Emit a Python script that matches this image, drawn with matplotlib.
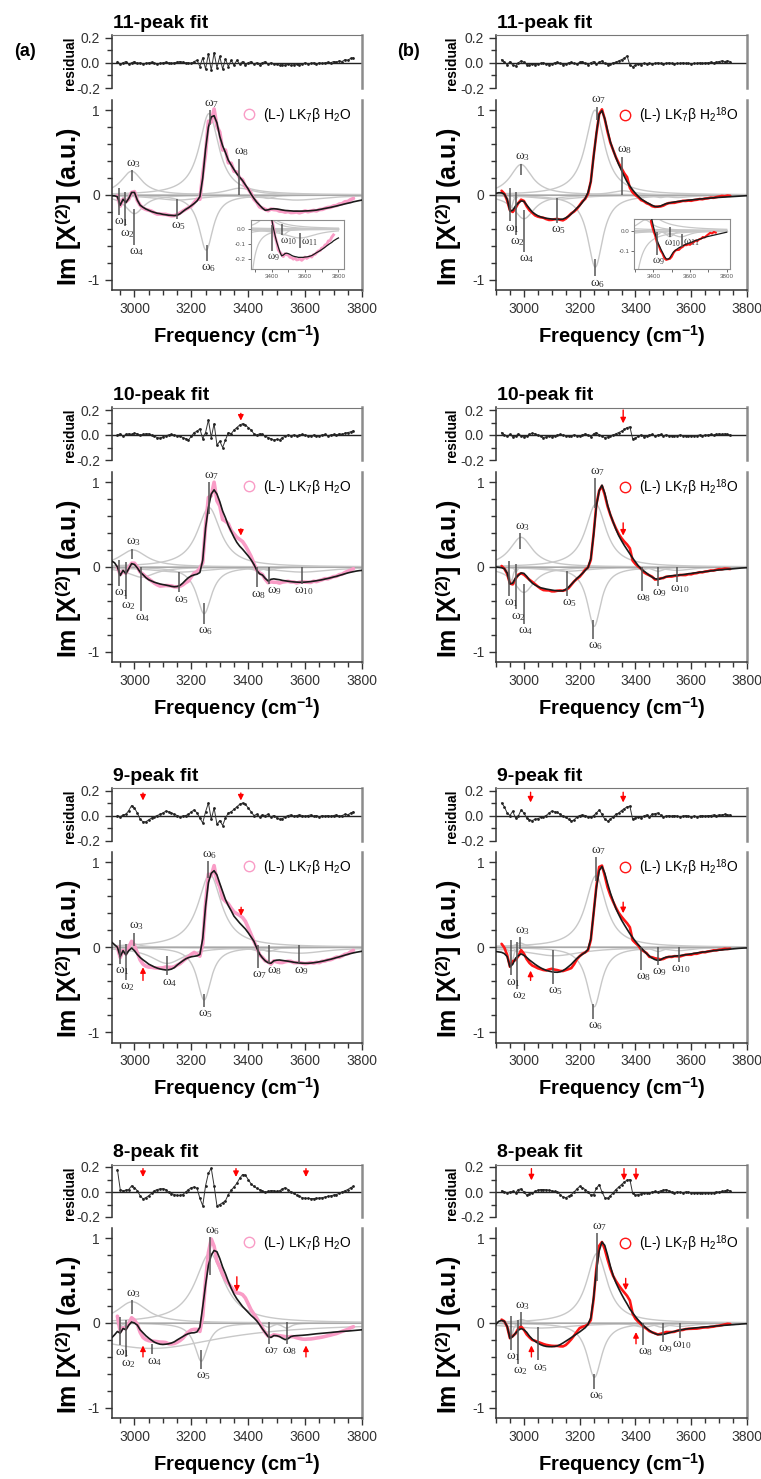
import numpy as np
import matplotlib
matplotlib.use('Agg')
import matplotlib.pyplot as plt
from matplotlib.ticker import MultipleLocator, FormatStrFormatter, FixedLocator
from matplotlib.lines import Line2D

plt.rcParams['font.family'] = ['Liberation Sans', 'DejaVu Sans']
plt.rcParams['mathtext.fontset'] = 'custom'
plt.rcParams['mathtext.rm'] = 'Liberation Sans'
plt.rcParams['mathtext.it'] = 'Liberation Serif'
plt.rcParams['mathtext.sf'] = 'Liberation Serif'
plt.rcParams['mathtext.bf'] = 'Liberation Sans:bold'
plt.rcParams['axes.unicode_minus'] = False

# ---------------- data ----------------
# frequency grids (cm-1) of the fit curves and residuals
freq_a = np.arange(2920, 3801, 10)     # column (a): H2O
freq_b = np.arange(2900, 3801, 10)     # column (b): H2 18O
res_start_a = 2940
res_start_b = 2920

# black fit curves, Im chi(2)
fit_a11 = [-0.01, -0.01, -0.02, -0.12, -0.05, -0.09, -0.04, 0.03, 0.03, -0.06,
           -0.12, -0.145, -0.165, -0.18, -0.195, -0.205, -0.215, -0.22, -0.228, -0.233,
           -0.238, -0.24, -0.243, -0.238, -0.222, -0.195, -0.17, -0.15, -0.125, -0.10,
           -0.07, -0.02, 0.20, 0.54, 0.80, 0.92, 0.935, 0.85, 0.69, 0.58,
           0.50, 0.41, 0.355, 0.30, 0.25, 0.21, 0.17, 0.12, 0.07, 0.01,
           -0.04, -0.085, -0.12, -0.155, -0.18, -0.175, -0.165, -0.162, -0.165, -0.17,
           -0.177, -0.182, -0.185, -0.187, -0.19, -0.19, -0.19, -0.19, -0.188, -0.187,
           -0.185, -0.182, -0.178, -0.172, -0.165, -0.158, -0.152, -0.145, -0.138, -0.13,
           -0.122, -0.113, -0.105, -0.097, -0.09, -0.08, -0.073, -0.066, -0.06]
fit_a10 = [0.07, 0.05, 0.0, -0.10, -0.04, -0.08, -0.02, 0.04, 0.03, -0.01,
           -0.06, -0.09, -0.125, -0.15, -0.165, -0.18, -0.19, -0.2, -0.207, -0.213,
           -0.22, -0.228, -0.233, -0.23, -0.218, -0.19, -0.155, -0.125, -0.105, -0.093,
           -0.085, -0.065, 0.08, 0.46, 0.70, 0.86, 0.91, 0.86, 0.77, 0.66,
           0.58, 0.49, 0.42, 0.35, 0.29, 0.245, 0.21, 0.17, 0.13, 0.085,
           0.03, -0.04, -0.08, -0.095, -0.135, -0.165, -0.145, -0.14, -0.145, -0.15,
           -0.158, -0.163, -0.168, -0.172, -0.176, -0.178, -0.18, -0.18, -0.178, -0.175,
           -0.172, -0.167, -0.162, -0.156, -0.15, -0.142, -0.135, -0.127, -0.118, -0.11,
           -0.1, -0.09, -0.08, -0.07, -0.062, -0.055, -0.048, -0.043, -0.04]
fit_a9 = [0.06, 0.03, 0.0, -0.11, -0.04, -0.09, -0.04, -0.01, -0.04, -0.085,
          -0.12, -0.148, -0.172, -0.198, -0.215, -0.232, -0.245, -0.255, -0.262, -0.267,
          -0.265, -0.257, -0.24, -0.21, -0.184, -0.16, -0.137, -0.122, -0.112, -0.106,
          -0.101, -0.085, 0.1, 0.48, 0.76, 0.87, 0.9, 0.85, 0.75, 0.655,
          0.56, 0.49, 0.43, 0.365, 0.325, 0.285, 0.25, 0.215, 0.17, 0.12,
          0.07, -0.01, -0.08, -0.125, -0.16, -0.182, -0.188, -0.16, -0.152, -0.15,
          -0.155, -0.16, -0.164, -0.17, -0.176, -0.181, -0.185, -0.187, -0.188, -0.188,
          -0.186, -0.182, -0.177, -0.171, -0.165, -0.157, -0.149, -0.141, -0.132, -0.122,
          -0.113, -0.103, -0.093, -0.083, -0.074, -0.066, -0.059, -0.053, -0.047]
fit_a8 = [-0.174, -0.14, -0.1, -0.12, -0.065, -0.08, -0.025, 0.012, 0.0, -0.025,
          -0.08, -0.115, -0.15, -0.178, -0.203, -0.226, -0.24, -0.25, -0.253, -0.25,
          -0.245, -0.236, -0.222, -0.2, -0.18, -0.16, -0.14, -0.125, -0.117, -0.115,
          -0.105, -0.05, 0.19, 0.45, 0.68, 0.80, 0.855, 0.84, 0.76, 0.66,
          0.58, 0.49, 0.41, 0.34, 0.285, 0.24, 0.195, 0.16, 0.125, 0.09,
          0.06, 0.025, -0.02, -0.07, -0.115, -0.16, -0.17, -0.148, -0.15, -0.16,
          -0.18, -0.196, -0.185, -0.16, -0.152, -0.149, -0.147, -0.145, -0.142, -0.139,
          -0.135, -0.131, -0.127, -0.124, -0.121, -0.118, -0.115, -0.112, -0.108, -0.105,
          -0.102, -0.099, -0.097, -0.095, -0.092, -0.089, -0.086, -0.083, -0.08]
fit_b11 = [0.02, 0.027, 0.025, 0.01, -0.05, -0.19, -0.18, -0.13, -0.095, -0.07,
           -0.075, -0.118, -0.16, -0.2, -0.225, -0.245, -0.258, -0.268, -0.274, -0.279,
           -0.283, -0.286, -0.287, -0.287, -0.284, -0.27, -0.25, -0.222, -0.19, -0.155,
           -0.125, -0.085, -0.04, 0.03, 0.16, 0.45, 0.73, 0.95, 0.995, 0.9,
           0.76, 0.627, 0.53, 0.44, 0.36, 0.29, 0.22, 0.155, 0.105, 0.06,
           0.02, -0.015, -0.045, -0.068, -0.087, -0.105, -0.122, -0.135, -0.137, -0.13,
           -0.115, -0.102, -0.095, -0.088, -0.082, -0.078, -0.073, -0.069, -0.065, -0.061,
           -0.058, -0.055, -0.051, -0.048, -0.045, -0.042, -0.039, -0.036, -0.033, -0.03,
           -0.028, -0.026, -0.024, -0.022, -0.02, -0.018, -0.016, -0.014, -0.012, -0.01,
           -0.008]
fit_b10 = [0.0, -0.003, -0.008, -0.02, -0.07, -0.2, -0.19, -0.13, -0.1, -0.07,
           -0.075, -0.11, -0.155, -0.19, -0.212, -0.23, -0.245, -0.252, -0.26, -0.266,
           -0.272, -0.277, -0.28, -0.282, -0.28, -0.265, -0.24, -0.205, -0.17, -0.135,
           -0.105, -0.075, -0.04, -0.005, 0.1, 0.38, 0.72, 0.9, 0.965, 0.87,
           0.73, 0.62, 0.53, 0.445, 0.37, 0.31, 0.255, 0.205, 0.155, 0.105,
           0.06, 0.015, -0.02, -0.047, -0.072, -0.098, -0.12, -0.138, -0.145, -0.138,
           -0.126, -0.115, -0.108, -0.103, -0.1, -0.097, -0.094, -0.09, -0.085, -0.08,
           -0.076, -0.071, -0.067, -0.062, -0.058, -0.054, -0.05, -0.046, -0.042, -0.038,
           -0.035, -0.032, -0.029, -0.026, -0.024, -0.021, -0.018, -0.015, -0.012, -0.01,
           -0.008]
fit_b9 = [-0.05, -0.055, -0.06, -0.075, -0.11, -0.23, -0.2, -0.13, -0.1, -0.078,
          -0.095, -0.12, -0.15, -0.175, -0.2, -0.222, -0.242, -0.258, -0.272, -0.281,
          -0.288, -0.293, -0.294, -0.288, -0.275, -0.254, -0.228, -0.2, -0.165, -0.132,
          -0.105, -0.082, -0.06, -0.025, 0.1, 0.4, 0.7, 0.9, 0.95, 0.87,
          0.75, 0.64, 0.545, 0.455, 0.385, 0.32, 0.265, 0.212, 0.16, 0.113,
          0.07, 0.03, -0.005, -0.042, -0.075, -0.103, -0.128, -0.145, -0.155, -0.148,
          -0.128, -0.117, -0.112, -0.109, -0.105, -0.101, -0.098, -0.093, -0.088, -0.083,
          -0.078, -0.072, -0.067, -0.062, -0.058, -0.054, -0.05, -0.045, -0.041, -0.037,
          -0.034, -0.031, -0.028, -0.025, -0.022, -0.019, -0.016, -0.013, -0.011, -0.009,
          -0.008]
fit_b8 = [-0.016, 0.02, 0.03, 0.02, -0.04, -0.18, -0.16, -0.12, -0.085, -0.066,
          -0.08, -0.11, -0.155, -0.19, -0.215, -0.238, -0.255, -0.268, -0.276, -0.279,
          -0.279, -0.276, -0.27, -0.255, -0.236, -0.215, -0.194, -0.172, -0.149, -0.127,
          -0.105, -0.08, -0.055, -0.015, 0.06, 0.3, 0.62, 0.85, 0.955, 0.915,
          0.8, 0.67, 0.56, 0.475, 0.405, 0.34, 0.28, 0.225, 0.165, 0.12,
          0.075, 0.035, 0.0, -0.035, -0.063, -0.088, -0.11, -0.126, -0.136, -0.137,
          -0.134, -0.126, -0.117, -0.107, -0.099, -0.091, -0.083, -0.077, -0.072, -0.067,
          -0.063, -0.059, -0.056, -0.053, -0.05, -0.047, -0.044, -0.041, -0.038, -0.035,
          -0.032, -0.03, -0.027, -0.025, -0.022, -0.02, -0.017, -0.015, -0.012, -0.01,
          -0.008]

# residuals (data - fit)
res_a11 = [0.01, -0.01, 0.0, 0.01, -0.01, 0.0, 0.01, -0.005, 0.0, -0.01,
           -0.005, 0.0, 0.005, -0.005, -0.01, -0.005, 0.0, 0.005, 0.0, -0.005,
           0.0, 0.005, 0.01, 0.005, 0.0, 0.0, -0.005, 0.01, 0.02, -0.03,
           0.04, -0.05, 0.07, -0.06, 0.08, -0.04, 0.05, -0.05, 0.03, -0.03,
           0.02, -0.02, 0.02, -0.01, 0.01, -0.02, 0.0, 0.01, -0.01, 0.0,
           -0.02, 0.0, 0.01, -0.01, 0.0, -0.01, -0.01, -0.02, -0.015, -0.02,
           -0.01, -0.02, -0.015, -0.01, -0.02, -0.01, 0.0, -0.01, -0.005, 0.0,
           -0.01, 0.0, -0.005, 0.0, 0.005, 0.0, 0.01, 0.005, 0.015, 0.01,
           0.025, 0.02, 0.035, 0.04]
res_a10 = [0.0, 0.01, -0.01, 0.005, 0.01, 0.005, 0.015, 0.01, 0.0, 0.005,
           0.01, 0.01, 0.0, -0.01, -0.02, -0.025, -0.015, -0.005, 0.0, 0.005,
           0.0, -0.005, -0.01, -0.02, -0.03, -0.04, -0.01, 0.02, 0.03, 0.05,
           -0.03, 0.02, 0.12, -0.02, 0.09, -0.08, -0.05, -0.1, -0.04, 0.02,
           0.01, 0.04, 0.06, 0.08, 0.09, 0.08, 0.06, 0.04, 0.01, 0.0,
           0.01, 0.005, -0.01, -0.02, -0.03, -0.04, -0.035, -0.04, -0.02, -0.01,
           0.0, -0.005, 0.0, -0.01, 0.0, 0.005, 0.0, -0.005, -0.01, 0.0,
           -0.01, -0.005, 0.0, 0.005, -0.005, 0.0, 0.005, 0.0, 0.01, 0.005,
           0.015, 0.02, 0.025, 0.035]
res_a9 = [0.0, -0.01, 0.005, 0.01, 0.04, 0.08, 0.06, 0.02, -0.03, -0.05,
          -0.05, -0.035, -0.02, -0.01, 0.0, 0.01, 0.02, 0.035, 0.03, 0.02,
          0.01, 0.0, -0.01, -0.005, 0.0, 0.01, 0.03, 0.045, 0.02, -0.02,
          -0.06, 0.03, 0.1, -0.03, 0.06, -0.07, -0.04, -0.08, -0.02, 0.02,
          0.03, 0.05, 0.07, 0.09, 0.1, 0.09, 0.06, 0.03, 0.0, 0.01,
          -0.01, 0.005, 0.0, 0.01, -0.01, 0.0, -0.02, -0.03, -0.025, -0.01,
          0.0, 0.005, -0.005, 0.0, 0.005, 0.0, -0.005, 0.0, 0.005, -0.005,
          0.0, -0.01, 0.0, -0.005, 0.0, -0.005, 0.0, 0.005, -0.005, 0.0,
          0.01, 0.005, 0.02, 0.03]
res_a8 = [0.18, 0.02, 0.01, 0.015, 0.02, 0.05, 0.035, 0.01, -0.03, -0.055,
          -0.045, -0.03, -0.01, 0.01, 0.02, 0.025, 0.027, 0.02, 0.0, -0.012,
          -0.02, -0.027, -0.027, -0.02, 0.0, 0.02, 0.035, 0.04, 0.03, -0.05,
          -0.11, 0.05, 0.15, 0.19, 0.05, -0.11, -0.1, -0.085, -0.07, -0.02,
          0.015, 0.04, 0.07, 0.11, 0.14, 0.135, 0.1, 0.065, 0.045, 0.03,
          0.02, 0.01, 0.0, 0.005, 0.012, 0.01, 0.005, 0.01, 0.025, 0.035,
          0.02, 0.0, -0.01, -0.025, -0.035, -0.045, -0.05, -0.05, -0.053, -0.052,
          -0.05, -0.048, -0.045, -0.04, -0.035, -0.03, -0.025, -0.02, -0.01, 0.0,
          0.01, 0.02, 0.035, 0.045]
res_b11 = [0.025, 0.005, -0.015, 0.01, -0.02, -0.025, 0.0, 0.015, 0.005, -0.015,
           -0.02, -0.01, -0.015, -0.01, -0.005, 0.0, -0.01, -0.015, -0.01, 0.0,
           0.005, -0.005, -0.015, -0.01, 0.0, 0.005, -0.005, -0.01, 0.005, 0.01,
           -0.005, -0.015, 0.0, 0.01, -0.01, 0.005, 0.015, -0.005, -0.015, -0.01,
           0.0, 0.005, 0.015, 0.025, 0.035, 0.055, -0.02, -0.03, -0.02, -0.01,
           -0.015, -0.005, -0.01, -0.005, -0.01, -0.005, 0.0, -0.005, -0.01, -0.005,
           0.0, -0.005, -0.01, -0.005, -0.005, 0.0, -0.005, -0.005, -0.01, -0.005,
           -0.005, 0.0, -0.005, 0.0, 0.0, 0.005, 0.0, 0.005, 0.01, 0.015,
           0.01, 0.015, 0.01]
res_b10 = [0.02, 0.0, -0.01, 0.005, -0.015, -0.01, 0.01, -0.005, -0.015, -0.01,
           0.005, 0.015, 0.01, 0.0, -0.01, -0.02, -0.015, -0.01, -0.015, -0.01,
           0.0, 0.005, 0.0, -0.005, -0.01, -0.005, 0.0, -0.005, -0.01, 0.0,
           0.01, 0.0, -0.015, 0.01, 0.02, 0.0, -0.01, -0.02, -0.015, -0.005,
           0.0, 0.01, 0.02, 0.03, 0.045, 0.06, 0.065, -0.03, -0.025, -0.01,
           0.0, -0.015, -0.01, 0.0, 0.005, -0.01, 0.0, 0.005, -0.005, 0.0,
           -0.005, -0.01, -0.005, -0.005, 0.0, -0.005, -0.01, -0.005, -0.01, -0.005,
           -0.005, 0.0, -0.005, 0.0, 0.0, 0.005, 0.0, 0.005, 0.01, 0.005,
           0.01, 0.005, 0.0]
res_b9 = [0.1, 0.07, 0.02, 0.0, 0.035, -0.02, -0.005, 0.045, 0.02, -0.02,
          -0.035, -0.04, -0.03, -0.025, -0.015, -0.01, 0.0, 0.02, 0.035, 0.03,
          0.025, 0.01, -0.005, -0.015, -0.03, -0.045, -0.035, -0.01, 0.0, 0.005,
          0.0, -0.01, -0.015, 0.0, 0.02, 0.044, 0.01, -0.03, -0.045, -0.03,
          -0.01, 0.01, 0.02, 0.04, 0.055, 0.07, 0.075, -0.03, -0.02, -0.01,
          -0.02, -0.005, 0.005, -0.01, 0.01, 0.015, 0.02, 0.005, -0.01, -0.005,
          0.0, -0.005, 0.0, -0.005, -0.01, -0.005, 0.0, -0.005, -0.01, -0.005,
          -0.01, -0.005, 0.0, -0.005, 0.0, 0.0, 0.005, 0.0, 0.005, 0.005,
          0.01, 0.005, 0.005]
res_b8 = [0.01, 0.0, -0.005, 0.0, 0.005, -0.005, 0.02, 0.025, 0.0, -0.025,
          -0.015, -0.01, 0.005, 0.015, 0.02, 0.02, 0.018, 0.015, 0.01, 0.005,
          0.0, -0.02, -0.04, -0.045, -0.035, -0.02, 0.0, 0.025, 0.045, 0.035,
          0.02, 0.0, -0.025, -0.02, 0.03, 0.06, 0.0, -0.045, -0.05, -0.03,
          -0.005, 0.02, 0.04, 0.06, 0.08, 0.095, 0.1, -0.01, -0.025, -0.02,
          -0.015, -0.01, -0.005, -0.008, 0.0, 0.005, 0.0, 0.01, 0.015, 0.02,
          0.01, 0.0, -0.005, 0.0, -0.002, -0.005, 0.0, -0.002, -0.005, -0.008,
          -0.01, -0.008, -0.005, -0.005, -0.008, -0.005, -0.005, 0.0, 0.0, 0.005,
          0.01, 0.015, 0.01]

# fitted Lorentzian components: centre (cm-1), height, half width (cm-1)
pk_a11_c = [2953, 2970, 2990, 3000, 3150, 3252, 3262, 3370, 3415, 3470, 3570]
pk_a11_h = [-0.12, -0.07, 0.28, -0.22, -0.06, -0.65, 0.96, 0.08, -0.03, -0.04, -0.06]
pk_a11_w = [4, 5, 45, 40, 100, 30, 42, 60, 20, 25, 120]
pk_a10_c = [2950, 2970, 2995, 3025, 3160, 3245, 3262, 3432, 3472, 3590]
pk_a10_h = [-0.1, -0.07, 0.2, -0.12, -0.06, -0.55, 0.70, -0.04, -0.04, -0.06]
pk_a10_w = [4, 5, 60, 60, 120, 32, 50, 30, 25, 120]
pk_a9_c = [2950, 2970, 2995, 3115, 3245, 3265, 3432, 3472, 3580]
pk_a9_h = [-0.11, -0.07, 0.04, -0.19, -0.62, 0.86, -0.04, -0.05, -0.07]
pk_a9_w = [4, 5, 30, 70, 30, 50, 25, 25, 120]
pk_a8_c = [2950, 2970, 2992, 3060, 3235, 3265, 3472, 3535]
pk_a8_h = [-0.08, -0.06, 0.25, -0.3, -0.45, 0.82, -0.05, -0.06]
pk_a8_w = [4, 5, 65, 300, 28, 62, 20, 20]
pk_b11_c = [2955, 2970, 2990, 3000, 3120, 3256, 3255, 3355, 3420, 3490, 3550]
pk_b11_h = [-0.15, -0.05, 0.36, -0.28, -0.05, -0.85, 1.0, 0.05, -0.02, -0.03, -0.03]
pk_b11_w = [7, 6, 48, 45, 100, 33, 42, 50, 20, 25, 60]
pk_b10_c = [2955, 2972, 2990, 3000, 3155, 3252, 3258, 3422, 3482, 3550]
pk_b10_h = [-0.18, -0.06, 0.35, -0.3, -0.05, -0.7, 0.74, -0.03, -0.05, -0.04]
pk_b10_w = [7, 6, 50, 45, 100, 30, 45, 25, 25, 60]
pk_b9_c = [2957, 2972, 2987, 3110, 3252, 3258, 3422, 3482, 3555]
pk_b9_h = [-0.18, -0.05, 0.05, -0.1, -0.7, 0.84, -0.03, -0.05, -0.04]
pk_b9_w = [7, 6, 20, 120, 32, 45, 25, 25, 60]
pk_b8_c = [2955, 2978, 2992, 3052, 3253, 3262, 3430, 3495, 3560]
pk_b8_h = [-0.16, -0.04, 0.04, -0.06, -0.64, 0.82, -0.05, -0.05, -0.04]
pk_b8_w = [7, 6, 20, 150, 32, 45, 40, 30, 60]

titles = ['11-peak fit', '10-peak fit', '9-peak fit', '8-peak fit']
legend_a = r'(L-) LK$_7$β H$_2$O'
legend_b = r'(L-) LK$_7$β H$_2$$^{18}$O'

# peak markers: (omega index, x, line start, line end, label side)
mk_a11 = [(1, 2947, 0.08, -0.23, 'b'), (2, 2968, 0.04, -0.37, 'b'), (3, 2990, 0.16, 0.29, 'a'),
          (4, 2999, -0.16, -0.59, 'b'), (5, 3149, -0.05, -0.28, 'b'), (6, 3254, -0.59, -0.78, 'b'),
          (7, 3264, 0.82, 1.0, 'a'), (8, 3369, 0.0, 0.43, 'a')]
mk_a11_in = [(9, 3400, 0.027, -0.15, 'b'), (10, 3460, 0.03, -0.04, 'bl'), (11, 3570, -0.03, -0.125, 'r')]
mk_a10 = [(1, 2947, 0.08, -0.22, 'b'), (2, 2970, 0.06, -0.38, 'b'), (3, 2990, 0.1, 0.216, 'a'),
          (4, 3022, 0.0, -0.52, 'b'), (5, 3158, -0.06, -0.3, 'b'), (6, 3243, -0.43, -0.67, 'b'),
          (7, 3263, 0.63, 1.0, 'a'), (8, 3430, 0.0, -0.24, 'b'), (9, 3472, 0.0, -0.2, 'bl'),
          (10, 3589, 0.0, -0.2, 'b')]
mk_a9 = [(1, 2949, 0.08, -0.2, 'b'), (2, 2969, 0.04, -0.38, 'b'), (3, 2999, 0.02, 0.17, 'a'),
         (4, 3116, -0.1, -0.33, 'b'), (5, 3243, -0.55, -0.7, 'b'), (6, 3258, 0.82, 1.01, 'a'),
         (7, 3434, 0.03, -0.24, 'b'), (8, 3473, 0.03, -0.19, 'bl'), (9, 3579, 0.03, -0.19, 'b')]
mk_a8 = [(1, 2949, 0.07, -0.265, 'b'), (2, 2972, 0.03, -0.4, 'b'), (3, 2990, 0.11, 0.27, 'a'),
         (4, 3063, -0.245, -0.37, 'b'), (5, 3234, -0.32, -0.54, 'b'), (6, 3267, 0.565, 1.01, 'a'),
         (7, 3473, 0.01, -0.245, 'b'), (8, 3537, 0.01, -0.245, 'b')]
mk_b11 = [(1, 2950, 0.08, -0.31, 'b'), (2, 2970, 0.04, -0.47, 'b'), (3, 2989, 0.235, 0.37, 'a'),
          (4, 3001, -0.18, -0.67, 'b'), (5, 3118, -0.04, -0.33, 'b'), (6, 3256, -0.75, -0.96, 'b'),
          (7, 3262, 0.88, 1.04, 'a'), (8, 3352, 0.0, 0.45, 'a')]
mk_b11_in = [(9, 3418, -0.006, -0.117, 'b'), (10, 3491, 0.016, -0.032, 'b'), (11, 3554, -0.016, -0.08, 'r')]
mk_b10 = [(1, 2948, 0.07, -0.34, 'b'), (2, 2972, 0.03, -0.5, 'b'), (3, 2987, 0.21, 0.4, 'a'),
          (4, 2999, -0.2, -0.67, 'b'), (5, 3155, -0.05, -0.34, 'b'), (6, 3249, -0.63, -0.85, 'b'),
          (7, 3255, 0.70, 1.05, 'a'), (8, 3423, 0.0, -0.28, 'b'), (9, 3480, 0.0, -0.22, 'b'),
          (10, 3550, 0.0, -0.18, 'b')]
mk_b9 = [(1, 2954, 0.08, -0.33, 'b'), (2, 2975, 0.06, -0.49, 'b'), (3, 2987, -0.02, 0.12, 'a'),
         (5, 3105, -0.03, -0.43, 'b'), (6, 3249, -0.67, -0.84, 'b'), (7, 3259, 0.78, 1.06, 'a'),
         (8, 3421, 0.0, -0.27, 'b'), (9, 3480, 0.0, -0.21, 'b'), (10, 3556, 0.0, -0.17, 'b')]
mk_b8 = [(1, 2955, 0.08, -0.32, 'b'), (2, 2979, 0.03, -0.48, 'b'), (3, 2989, -0.03, 0.13, 'a'),
         (5, 3051, -0.047, -0.44, 'b'), (6, 3253, -0.6, -0.78, 'b'), (7, 3263, 0.49, 1.06, 'a'),
         (8, 3428, 0.0, -0.26, 'b'), (9, 3500, 0.0, -0.22, 'b'), (10, 3560, 0.0, -0.18, 'b')]

# red arrows: (x, tail y, tip y)
ar_res_a10 = [(3374, 0.173, 0.115)]
ar_main_a10 = [(3374, 0.45, 0.37)]
ar_res_a9 = [(3030, 0.18, 0.12), (3374, 0.18, 0.12)]
ar_main_a9 = [(3030, -0.39, -0.235), (3375, 0.47, 0.37)]
ar_res_a8 = [(3030, 0.187, 0.12), (3357, 0.187, 0.12), (3603, 0.187, 0.12)]
ar_main_a8 = [(3360, 0.545, 0.37), (3030, -0.40, -0.265), (3603, -0.40, -0.265)]
ar_res_b10 = [(3356, 0.2, 0.093)]
ar_main_b10 = [(3356, 0.52, 0.37)]
ar_res_b9 = [(3024, 0.186, 0.104), (3356, 0.186, 0.104)]
ar_main_b9 = [(3024, -0.39, -0.275), (3356, 0.53, 0.40)]
ar_res_b8 = [(3027, 0.187, 0.093), (3359, 0.187, 0.093), (3402, 0.187, 0.093)]
ar_main_b8 = [(3365, 0.526, 0.387), (3027, -0.40, -0.265), (3402, -0.245, -0.107)]

# ---------------- layout ----------------
W, H = 761, 1479
fig = plt.figure(figsize=(W / 100, H / 100), dpi=100)

COLS = {'a': (111.7, 362.0), 'b': (496.0, 747.0)}
ROWS = [(35, 88, 100, 290), (407.5, 460, 472, 662), (788, 840.5, 852, 1042.5), (1164.5, 1217, 1228, 1418)]
DARK = '#333333'
GRID_C = '#c8c8c8'


def px_axes(x0, y0, x1, y1):
    return fig.add_axes([x0 / W, 1 - y1 / H, (x1 - x0) / W, (y1 - y0) / H])


def lorentz(x, c, h, w):
    return h * w ** 2 / ((x - c) ** 2 + w ** 2)


def add_marks(ax, marks, fs):
    for num, x, y0, y1, side in marks:
        ax.plot([x, x], [y0, y1], color='#555555', lw=1.1, zorder=6, solid_capstyle='butt')
        lab = r'$\omega_{\mathsf{%d}}$' % num
        kw = dict(textcoords='offset points', fontsize=fs, color=DARK, zorder=7)
        if side == 'a':
            ax.annotate(lab, (x, y1), xytext=(1.5, 0.3), ha='center', va='bottom', **kw)
        elif side == 'b':
            ax.annotate(lab, (x, y1), xytext=(1.5, -0.3), ha='center', va='top', **kw)
        elif side == 'bl':
            ax.annotate(lab, (x, y1), xytext=(-1.5, -0.3), ha='left', va='top', **kw)
        else:
            ax.annotate(lab, (x, (y0 + y1) / 2), xytext=(1, -1), ha='left', va='center', **kw)


def add_arrows(ax, arrows):
    for x, yt, yh in arrows:
        ax.annotate('', xy=(x, yh), xytext=(x, yt),
                    arrowprops=dict(arrowstyle='-|>', color='red', lw=1.0,
                                    mutation_scale=8, shrinkA=0, shrinkB=0), zorder=8)


def draw_panel(col, row, freq, fit, res_start, res, pk_c, pk_h, pk_w, marks,
               ar_res=(), ar_main=(), inset=None):
    x0, x1 = COLS[col]
    rt, rb, mt, mb = ROWS[row]
    xlo = freq[0]
    fit = np.asarray(fit)
    res = np.asarray(res)
    i0 = int(round((res_start - xlo) / 10))
    rx = freq[i0:i0 + len(res)]
    data = fit[i0:i0 + len(res)] + res
    dcol = '#f99cc6' if col == 'a' else '#ff1616'
    dlw = 2.6 if col == 'a' else 1.9
    xf = np.linspace(xlo, 3800, 1200)

    # residual panel
    ar = px_axes(x0, rt, x1, rb)
    ar.axhline(0, color='#222222', lw=1.0, zorder=1)
    ar.plot(rx, res, '-', color='#333333', lw=0.7, zorder=2)
    ar.plot(rx, res, 'o', color='#222222', ms=2.0, mew=0, zorder=3)
    ar.set_xlim(xlo, 3800)
    ar.set_ylim(-0.2, 0.22)
    ar.yaxis.set_major_locator(FixedLocator([-0.2, 0.0, 0.2]))
    ar.yaxis.set_minor_locator(FixedLocator([-0.1, 0.1]))
    ar.yaxis.set_major_formatter(FormatStrFormatter('%.1f'))
    ar.tick_params(axis='x', which='both', bottom=False, labelbottom=False)
    ar.tick_params(axis='y', which='both', direction='out', colors=DARK, labelsize=10, width=1)
    ar.tick_params(axis='y', which='major', length=5)
    ar.tick_params(axis='y', which='minor', length=3.5)
    ar.spines['bottom'].set_visible(False)
    ar.spines['top'].set_color('#777777')
    ar.spines['right'].set_color('#8c8c8c')
    ar.spines['right'].set_linewidth(1.8)
    ar.spines['left'].set_color(DARK)
    ar.spines['left'].set_linewidth(1.1)
    add_arrows(ar, ar_res)
    ar.annotate(titles[row], (0, 1), xycoords='axes fraction', xytext=(1, 2.5),
                textcoords='offset points', ha='left', va='bottom', fontsize=14, fontweight='bold')

    # main panel
    ax = px_axes(x0, mt, x1, mb)
    for c, h, w in zip(pk_c, pk_h, pk_w):
        ax.plot(xf, lorentz(xf, c, h, w), color=GRID_C, lw=1.0, zorder=1)
    ax.axhline(0, color='#a8a8a8', lw=0.8, zorder=1)
    ax.plot(rx, data, '-', color=dcol, lw=dlw, zorder=2, solid_capstyle='round')
    ax.plot(freq, fit, '-', color='#1a1a1a', lw=1.2, zorder=3)
    add_marks(ax, marks, 9.5)
    add_arrows(ax, ar_main)
    ax.set_xlim(xlo, 3800)
    ax.set_ylim(-1.12, 1.12)
    ax.xaxis.set_major_locator(MultipleLocator(200))
    ax.xaxis.set_minor_locator(MultipleLocator(50))
    ax.yaxis.set_major_locator(MultipleLocator(1))
    ax.yaxis.set_minor_locator(MultipleLocator(0.2))
    ax.tick_params(which='both', direction='out', colors=DARK, labelsize=10, width=1)
    ax.tick_params(which='major', length=5)
    ax.tick_params(which='minor', length=3.5)
    ax.spines['top'].set_visible(False)
    ax.spines['right'].set_color('#8c8c8c')
    ax.spines['right'].set_linewidth(1.8)
    for s in ('left', 'bottom'):
        ax.spines[s].set_color(DARK)
        ax.spines[s].set_linewidth(1.1)

    handle = Line2D([], [], ls='none', marker='o', ms=7.5, mfc='none', mec=dcol, mew=1.0)
    ax.legend([handle], [legend_a if col == 'a' else legend_b], loc='center left',
              bbox_to_anchor=(0.52 if col == 'a' else 0.487, 0.92), frameon=False,
              fontsize=10, handlelength=1.0, handletextpad=0.5, borderaxespad=0, borderpad=0)

    # axis labels
    lx = 69 if col == 'a' else 449
    fig.text(lx / W, 1 - ((mt + mb) / 2 + 11) / H, r'Im [X$^{\mathbf{(2)}}$] (a.u.)',
             rotation=90, ha='center', va='center', fontsize=18, fontweight='bold')
    rlx = 70 if col == 'a' else 452
    fig.text(rlx / W, 1 - ((rt + rb) / 2 + 2) / H, 'residual', rotation=90,
             ha='center', va='center', fontsize=10, fontweight='bold')
    fig.text((x0 + x1) / 2 / W, 1 - (mb + 46) / H, r'Frequency (cm$^{\mathbf{-1}}$)',
             ha='center', va='center', fontsize=14.5, fontweight='bold')

    if inset is not None:
        box, xl, yl, yt, imarks = inset
        ai = px_axes(*box)
        ai.set_facecolor('white')
        for c, h, w in zip(pk_c, pk_h, pk_w):
            ai.plot(xf, lorentz(xf, c, h, w), color=GRID_C, lw=0.9, zorder=1)
        ai.plot(rx, data, '-', color=dcol, lw=dlw * 0.8, zorder=2)
        ai.plot(freq, fit, '-', color='#1a1a1a', lw=0.9, zorder=3)
        add_marks(ai, imarks, 8)
        ai.set_xlim(*xl)
        ai.set_ylim(*yl)
        ai.xaxis.set_major_locator(FixedLocator([3400, 3600, 3800]))
        ai.xaxis.set_minor_locator(MultipleLocator(100))
        ai.yaxis.set_major_locator(FixedLocator(yt))
        ai.yaxis.set_major_formatter(FormatStrFormatter('%.1f'))
        ai.tick_params(which='both', direction='out', colors='#555555', labelsize=4.5,
                       length=2, width=0.6, pad=1.5)
        for s in ai.spines.values():
            s.set_color('#8c8c8c')
            s.set_linewidth(0.8)


draw_panel('a', 0, freq_a, fit_a11, res_start_a, res_a11, pk_a11_c, pk_a11_h, pk_a11_w, mk_a11,
           inset=((250.7, 220, 344.3, 269.3), (3275, 3835), (-0.27, 0.06), [0.0, -0.1, -0.2], mk_a11_in))
draw_panel('a', 1, freq_a, fit_a10, res_start_a, res_a10, pk_a10_c, pk_a10_h, pk_a10_w, mk_a10,
           ar_res_a10, ar_main_a10)
draw_panel('a', 2, freq_a, fit_a9, res_start_a, res_a9, pk_a9_c, pk_a9_h, pk_a9_w, mk_a9,
           ar_res_a9, ar_main_a9)
draw_panel('a', 3, freq_a, fit_a8, res_start_a, res_a8, pk_a8_c, pk_a8_h, pk_a8_w, mk_a8,
           ar_res_a8, ar_main_a8)
draw_panel('b', 0, freq_b, fit_b11, res_start_b, res_b11, pk_b11_c, pk_b11_h, pk_b11_w, mk_b11,
           inset=((634.3, 219, 730, 269.3), (3296, 3818), (-0.185, 0.055), [0.0, -0.1], mk_b11_in))
draw_panel('b', 1, freq_b, fit_b10, res_start_b, res_b10, pk_b10_c, pk_b10_h, pk_b10_w, mk_b10,
           ar_res_b10, ar_main_b10)
draw_panel('b', 2, freq_b, fit_b9, res_start_b, res_b9, pk_b9_c, pk_b9_h, pk_b9_w, mk_b9,
           ar_res_b9, ar_main_b9)
draw_panel('b', 3, freq_b, fit_b8, res_start_b, res_b8, pk_b8_c, pk_b8_h, pk_b8_w, mk_b8,
           ar_res_b8, ar_main_b8)

fig.text(25 / W, 1 - 52 / H, '(a)', ha='center', va='center', fontsize=13, fontweight='bold')
fig.text(409 / W, 1 - 52 / H, '(b)', ha='center', va='center', fontsize=13, fontweight='bold')

fig.savefig('out.png', dpi=100)
